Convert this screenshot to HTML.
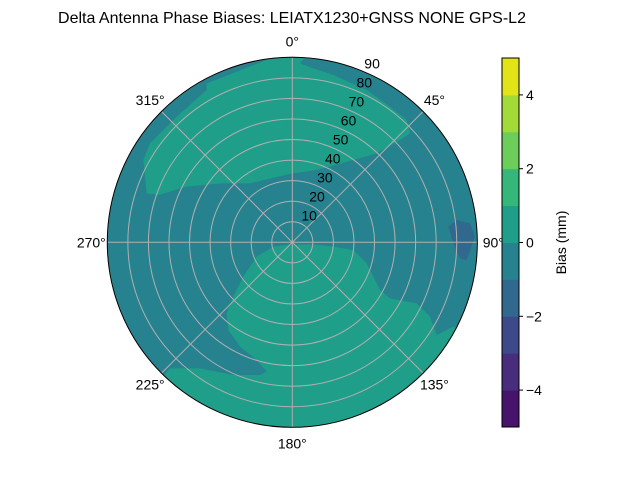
<!DOCTYPE html>
<html><head><meta charset="utf-8"><style>
body{margin:0;background:#fff}
svg text{font-family:"Liberation Sans","DejaVu Sans",sans-serif;fill:#000}
</style></head><body>
<svg width="640" height="480" viewBox="0 0 640 480">
<text x="292" y="23" text-anchor="middle" font-size="16">Delta Antenna Phase Biases: LEIATX1230+GNSS NONE GPS-L2</text>
<defs><clipPath id="cc"><circle cx="292.3" cy="242.3" r="185"/></clipPath></defs>
<g clip-path="url(#cc)">
<circle cx="292.3" cy="242.3" r="185" fill="#26828e"/>
<g transform="translate(100,50) scale(0.33333)">
<polygon fill="#1f9e89" points="620,15 600,40 640,55 700,75 800,120 870,170 920,210 930,250 900,270 830,310 760,330 650,360 577,370 450,400 360,400 260,410 175,435 140,430 135,380 130,330 150,280 230,200 320,120 320,100 577,0"/>
<polygon fill="#1f9e89" points="577,583 520,590 470,620 430,680 400,740 380,790 385,840 420,890 470,930 500,965 480,975 400,975 300,955 210,955 185,985 100,1100 577,1250 1200,900 1060,830 1010,855 990,800 950,760 870,745 840,720 820,680 800,640 760,600 700,590 640,583"/>
<polygon fill="#31688e" points="1045,530 1070,510 1110,520 1125,560 1100,630 1080,625 1060,580"/>
</g>
</g>
<g id="grid" stroke="#b0b0b0" stroke-width="1" fill="none"></g>
<circle cx="292.3" cy="242.3" r="185" fill="none" stroke="#000" stroke-width="1"/>
<g id="labels" font-size="14"></g>
<g id="cbar"></g>
<text transform="translate(566,242.5) rotate(-90)" text-anchor="middle" font-size="14">Bias (mm)</text>
</svg>
<script>
const ringValues=[10,20,30,40,50,60,70,80,90];
const angleLabels=[0,45,90,135,180,225,270,315];
const levels=[-5,-4,-3,-2,-1,0,1,2,3,4,5];
const levelColors=["#46146b","#472d7b","#3e4989","#31688e","#26828e","#1f9e89","#35b779","#6ccd5a","#a2da37","#e3e418"];
const cbarTicks=[-4,-2,0,2,4];
const NS="http://www.w3.org/2000/svg";
const cx=292.3,cy=242.3,R=185,rmax=90;
function rr(v){return v/rmax*R;}
function mk(t,a,p){const e=document.createElementNS(NS,t);for(const k in a)e.setAttribute(k,a[k]);p.appendChild(e);return e;}
const g=document.getElementById('grid'),L=document.getElementById('labels'),C=document.getElementById('cbar');
ringValues.forEach(v=>{
 const c=mk('circle',{cx:cx,cy:cy,r:rr(v)},g);
 
 
 const a=22.5*Math.PI/180;
 const t=mk('text',{x:cx+rr(v)*Math.sin(a)+9,y:cy-rr(v)*Math.cos(a)-3,'text-anchor':'middle'},L);
 t.textContent=v;
 
 
});
angleLabels.forEach(d=>{
 const a=d*Math.PI/180;
 const l=mk('line',{x1:cx,y1:cy,x2:cx+R*Math.sin(a),y2:cy-R*Math.cos(a)},g);
 
 
 const t=mk('text',{x:cx+(R+16)*Math.sin(a),y:cy-(R+16)*Math.cos(a)+5,'text-anchor':'middle'},L);
 t.textContent=d+'°';
 
 
});
const cx0=502,cw=17,ytop=58,ybot=427;
function cyv(v){return ybot-(v-levels[0])/(levels[levels.length-1]-levels[0])*(ybot-ytop);}
for(let i=0;i<levels.length-1;i++){
 const r=mk('rect',{x:cx0,y:cyv(levels[i+1]),width:cw,height:cyv(levels[i])-cyv(levels[i+1])+0.5,fill:levelColors[i]},C);
 
 
}
mk('rect',{x:cx0,y:ytop,width:cw,height:ybot-ytop,fill:'none',stroke:'#000','stroke-width':1},C);
cbarTicks.forEach(v=>{
 mk('line',{x1:cx0+cw,x2:cx0+cw+4,y1:cyv(v),y2:cyv(v),stroke:'#000'},C);
 const t=mk('text',{x:cx0+cw+7,y:cyv(v)+5,'font-size':14},C);
 t.textContent=v<0?'\u2212'+(-v):v;
 
 
});
</script>
</body></html>
